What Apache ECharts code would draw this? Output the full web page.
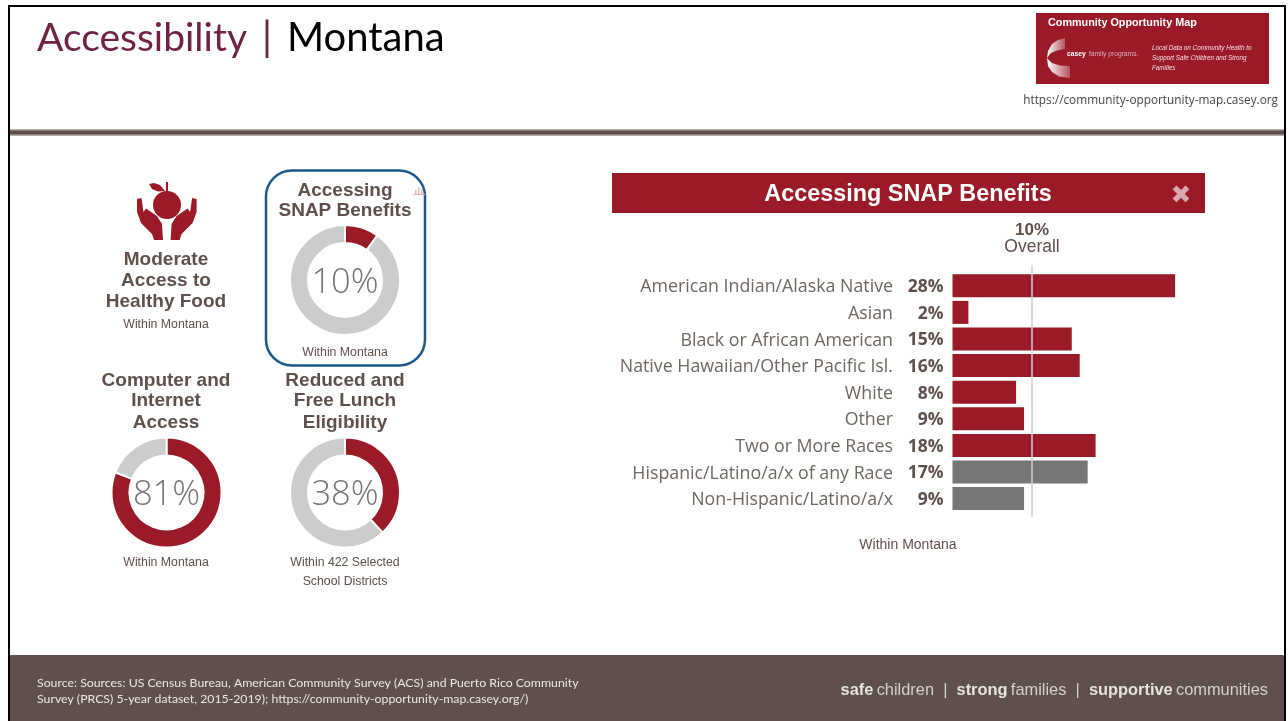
<!DOCTYPE html>
<html>
<head>
<meta charset="utf-8">
<title>Accessibility | Montana</title>
<script src="https://cdn.jsdelivr.net/npm/echarts@6/dist/echarts.min.js"></script>
<style>
  html, body { margin: 0; padding: 0; background: #fff; }
  #chart { width: 1288px; height: 721px; }
</style>
</head>
<body>
<div id="chart"></div>
<script>
const categories = [
  "American Indian/Alaska Native",
  "Asian",
  "Black or African American",
  "Native Hawaiian/Other Pacific Isl.",
  "White",
  "Other",
  "Two or More Races",
  "Hispanic/Latino/a/x of any Race",
  "Non-Hispanic/Latino/a/x",
];
const percentValues = [28, 2, 15, 16, 8, 9, 18, 17, 9];
const ethnicityCategories = ["Hispanic/Latino/a/x of any Race", "Non-Hispanic/Latino/a/x"];
const overallValue = 10;

const snapValue = 10;
const internetValue = 81;
const lunchValue = 38;

const RED = "#9a1b27";
const GREY = "#777677";
const RING = "#cccccc";
const BROWN = "#5f504b";
const TILE_TITLE = 19;
const TILE_NOTE = 12.3;

const chart = echarts.init(document.getElementById("chart"));

function label(x, y, text, size, opts) {
  return {
    type: "text",
    x: x,
    y: y,
    z: 20,
    silent: true,
    style: Object.assign({
      text: text,
      font: (opts && opts.weight ? opts.weight + " " : "") + size + 'px "Liberation Sans"',
      fill: BROWN,
      align: "center",
      verticalAlign: "middle",
    }, opts && opts.style),
  };
}

function poly(points, fill, z) {
  return { type: "polygon", z: z || 3, silent: true, shape: { points: points }, style: { fill: fill } };
}

function donut(cx, cy, value) {
  return {
    type: "pie",
    silent: true,
    center: [cx, cy],
    radius: [37, 55],
    startAngle: 90,
    clockwise: true,
    avoidLabelOverlap: false,
    itemStyle: { borderColor: "#fff", borderWidth: 2 },
    labelLine: { show: false },
    labelLayout: { dy: 3 },
    data: [
      {
        value: value,
        itemStyle: { color: RED },
        label: {
          show: true,
          position: "center",
          formatter: value + "%",
          fontFamily: "Open Sans",
          fontWeight: 300,
          fontSize: 34.5,
          color: "#77737a",
        },
      },
      { value: 100 - value, itemStyle: { color: RING }, label: { show: false } },
    ],
  };
}

// left hand of the food icon, the right one is its mirror image
const handLeft = [[137, 199], [141.5, 198], [143.5, 212], [146, 208.5], [157, 216], [162, 224], [163, 240], [154, 240], [152, 234], [141, 223], [137, 212]];
const handRight = handLeft.map((p) => [333.6 - p[0], p[1]]);
const leaf = [[149, 184], [154, 183], [160, 185], [165, 191], [158, 191.5], [152, 189]];
const swooshTop = [[1065, 38], [1058, 40], [1052, 44], [1048, 51], [1047, 58], [1051, 53], [1057, 50.5], [1065, 49]];
const swooshBottom = [[1047, 58], [1048, 66], [1052, 72], [1059, 76.5], [1070, 78], [1070, 66], [1060, 65.5], [1052, 63]];
const swooshFill = new echarts.graphic.LinearGradient(0, 0, 1, 0, [
  { offset: 0, color: "#ffffff" },
  { offset: 1, color: "rgba(255,255,255,0.25)" },
]);

const graphics = [
  // slide frame
  { type: "rect", z: 1, shape: { x: 9, y: 6, width: 1276, height: 720 }, style: { fill: "none", stroke: "#000", lineWidth: 2 } },
  { type: "rect", z: 2, shape: { x: 10, y: 129, width: 1274, height: 7 }, style: { fill: "#b5aca8" } },
  { type: "rect", z: 2, shape: { x: 10, y: 130.5, width: 1274, height: 4 }, style: { fill: BROWN } },
  { type: "rect", z: 2, shape: { x: 10, y: 655, width: 1274, height: 66 }, style: { fill: BROWN } },

  // heading
  label(37, 38, "Accessibility", 39, { style: { font: '39px "Lato"', fill: "#6e2346", align: "left" } }),
  label(267, 38, "|", 40, { style: { font: '40px "Lato"', fill: "#6e2346" } }),
  label(287, 38, "Montana", 40, { style: { font: '40px "Lato"', fill: "#000", align: "left" } }),

  // logo block
  { type: "rect", z: 2, shape: { x: 1036, y: 13, width: 233, height: 71 }, style: { fill: RED } },
  label(1048, 23.5, "Community Opportunity Map", 10.8, { weight: "bold", style: { fill: "#fff", align: "left" } }),
  poly(swooshTop, swooshFill),
  poly(swooshBottom, swooshFill),
  {
    type: "text", z: 20, x: 1067, y: 54,
    style: {
      text: "{a|casey} {b|family programs.}",
      verticalAlign: "middle",
      rich: {
        a: { font: 'bold 6.7px "Liberation Sans"', fill: "#fff" },
        b: { font: '6.7px "Liberation Sans"', fill: "#d9b3b7" },
      },
    },
  },
  label(1152, 48, "Local Data on Community Health to", 6.3, { style: { fill: "#f3dfe1", align: "left", font: 'italic 6.3px "Liberation Sans"' } }),
  label(1152, 58, "Support Safe Children and Strong", 6.3, { style: { fill: "#f3dfe1", align: "left", font: 'italic 6.3px "Liberation Sans"' } }),
  label(1152, 68, "Families", 6.3, { style: { fill: "#f3dfe1", align: "left", font: 'italic 6.3px "Liberation Sans"' } }),
  label(1278, 101, "https://community-opportunity-map.casey.org", 11.8, { style: { fill: "#444", align: "right", font: '11.8px "Open Sans"' } }),

  // food icon
  { type: "circle", z: 3, shape: { cx: 167, cy: 205, r: 14 }, style: { fill: RED } },
  poly(leaf, RED),
  { type: "rect", z: 3, shape: { x: 166, y: 182, width: 2, height: 11 }, style: { fill: RED } },
  poly(handLeft, RED),
  poly(handRight, RED),

  // food tile
  label(166, 260, "Moderate", TILE_TITLE, { weight: "bold" }),
  label(166, 281, "Access to", TILE_TITLE, { weight: "bold" }),
  label(166, 302, "Healthy Food", TILE_TITLE, { weight: "bold" }),
  label(166, 325, "Within Montana", TILE_NOTE),

  // selected tile
  { type: "rect", z: 2, shape: { x: 266, y: 170.5, width: 159, height: 195, r: 26 }, style: { fill: "none", stroke: "#1b5a88", lineWidth: 2.5 } },
  label(345, 191, "Accessing", TILE_TITLE, { weight: "bold" }),
  label(345, 210.5, "SNAP Benefits", TILE_TITLE, { weight: "bold" }),
  label(345, 352.5, "Within Montana", TILE_NOTE),
  { type: "rect", z: 3, shape: { x: 413, y: 194, width: 12, height: 1 }, style: { fill: "#e3b5b9" } },
  { type: "rect", z: 3, shape: { x: 415, y: 190, width: 1.5, height: 4 }, style: { fill: "#e3b5b9" } },
  { type: "rect", z: 3, shape: { x: 418, y: 187, width: 1.5, height: 7 }, style: { fill: "#e3b5b9" } },
  { type: "rect", z: 3, shape: { x: 421, y: 189, width: 1.5, height: 5 }, style: { fill: "#e3b5b9" } },

  // internet tile
  label(166, 381, "Computer and", TILE_TITLE, { weight: "bold" }),
  label(166, 401, "Internet", TILE_TITLE, { weight: "bold" }),
  label(166, 423, "Access", TILE_TITLE, { weight: "bold" }),
  label(166, 562.5, "Within Montana", TILE_NOTE),

  // lunch tile
  label(345, 381, "Reduced and", TILE_TITLE, { weight: "bold" }),
  label(345, 401, "Free Lunch", TILE_TITLE, { weight: "bold" }),
  label(345, 423, "Eligibility", TILE_TITLE, { weight: "bold" }),
  label(345, 562.5, "Within 422 Selected", TILE_NOTE),
  label(345, 581.5, "School Districts", TILE_NOTE),

  // detail panel
  { type: "rect", z: 2, shape: { x: 612, y: 173, width: 593, height: 40 }, style: { fill: RED } },
  label(908, 194.5, "Accessing SNAP Benefits", 23.4, { weight: "bold", style: { fill: "#fff" } }),
  label(1181, 196, "\u2716", 25, { style: { fill: "#dba8ad", font: '25px "DejaVu Sans"' } }),
  label(1032, 230, overallValue + "%", 17, { weight: "bold" }),
  label(1032, 247.5, "Overall", 17.5),
  label(908, 545, "Within Montana", 14),

  // footer
  {
    type: "text", z: 20, x: 37, y: 691,
    style: {
      text: "Source: Sources: US Census Bureau, American Community Survey (ACS) and Puerto Rico Community\nSurvey (PRCS) 5-year dataset, 2015-2019); https://community-opportunity-map.casey.org/)",
      font: '12.3px "Lato"',
      lineHeight: 16,
      fill: "#ebe7e5",
      verticalAlign: "middle",
    },
  },
  {
    type: "text", z: 20, x: 1268, y: 690.5,
    style: {
      text: "{b|safe} {r|children  |  }{b|strong} {r|families  |  }{b|supportive} {r|communities}",
      align: "right",
      verticalAlign: "middle",
      rich: {
        b: { font: 'bold 16.4px "Liberation Sans"', fill: "#e6e2e0" },
        r: { font: '16.4px "Liberation Sans"', fill: "#d5d0cd" },
      },
    },
  },
];

const option = {
  animation: false,
  grid: [
    { left: 952.5, top: 272.5, width: 238.5, height: 239.4 },
    { left: 952.5, top: 265, width: 238.5, height: 252 },
  ],
  xAxis: [
    { type: "value", gridIndex: 0, min: 0, max: 30, show: false },
    { type: "value", gridIndex: 1, min: 0, max: 30, show: false },
  ],
  yAxis: [
    {
      type: "category",
      gridIndex: 0,
      inverse: true,
      data: categories,
      axisLine: { show: false },
      axisTick: { show: false },
      splitLine: { show: false },
      axisLabel: {
        margin: 59.5,
        interval: 0,
        fontFamily: "Open Sans",
        fontSize: 17.8,
        color: "#6f6662",
        verticalAlign: "top",
        lineHeight: 3,
      },
    },
    { type: "value", gridIndex: 1, min: 0, max: 1, show: false },
  ],
  series: [
    {
      type: "bar",
      silent: true,
      xAxisIndex: 0,
      yAxisIndex: 0,
      barWidth: 23,
      data: percentValues,
      itemStyle: {
        color: (p) => (ethnicityCategories.includes(p.name) ? GREY : RED),
      },
      label: {
        show: true,
        position: "left",
        distance: 9,
        offset: [0, 1.5],
        formatter: "{c}%",
        fontFamily: "Open Sans",
        fontWeight: "bold",
        fontSize: 17.5,
        color: BROWN,
      },
    },
    {
      // overall reference line
      type: "line",
      silent: true,
      xAxisIndex: 1,
      yAxisIndex: 1,
      z: 5,
      symbol: "none",
      lineStyle: { color: "#cfcfcf", width: 1.5 },
      data: [[overallValue, 0], [overallValue, 1]],
    },
    donut(345, 280, snapValue),
    donut(166.5, 492.5, internetValue),
    donut(345, 492.5, lunchValue),
  ],
  graphic: { elements: graphics },
};

chart.setOption(option);
</script>
</body>
</html>
